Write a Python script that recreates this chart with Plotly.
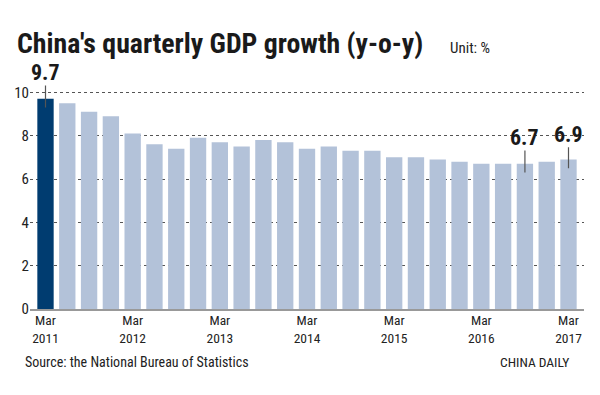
import plotly.graph_objects as go

quarters = ["2011Q1","2011Q2","2011Q3","2011Q4",
            "2012Q1","2012Q2","2012Q3","2012Q4",
            "2013Q1","2013Q2","2013Q3","2013Q4",
            "2014Q1","2014Q2","2014Q3","2014Q4",
            "2015Q1","2015Q2","2015Q3","2015Q4",
            "2016Q1","2016Q2","2016Q3","2016Q4",
            "2017Q1"]
growth = [9.7, 9.5, 9.1, 8.9,
          8.1, 7.6, 7.4, 7.9,
          7.7, 7.5, 7.8, 7.7,
          7.4, 7.5, 7.3, 7.3,
          7.0, 7.0, 6.9, 6.8,
          6.7, 6.7, 6.7, 6.8,
          6.9]
tick_positions = ["2011Q1","2012Q1","2013Q1","2014Q1","2015Q1","2016Q1","2017Q1"]
tick_labels = ["Mar<br>2011","Mar<br>2012","Mar<br>2013","Mar<br>2014","Mar<br>2015","Mar<br>2016","Mar<br>2017"]
highlight_idx = [0, 22, 24]

DARK = "#003c70"
LIGHT = "#b3c2d9"
FONT = "Roboto Condensed, Open Sans Condensed, sans-serif"

# the page has an 8px body margin, so the figure is drawn 8px smaller
W, H = 592, 387

colors = [DARK if i == 0 else LIGHT for i in range(len(growth))]

fig = go.Figure(go.Bar(x=quarters, y=growth, marker=dict(color=colors, line=dict(width=0)),
                       hoverinfo="skip"))

callout_ay = {0: -35, 22: -35, 24: -34}
annotations = []
for i in highlight_idx:
    annotations.append(dict(
        x=quarters[i], y=growth[i] - 0.4, xref="x", yref="y",
        text="<b>%.1f</b>" % growth[i], showarrow=True, arrowhead=0,
        arrowwidth=1.2, arrowcolor="#555555", ax=0, ay=callout_ay[i],
        font=dict(family=FONT, size=22, color="#1a1a1a"), borderpad=0))

annotations += [
    dict(text="Unit: %", xref="paper", yref="paper", x=0.754, y=1.18,
         xanchor="left", yanchor="middle", showarrow=False,
         font=dict(family=FONT, size=15, color="#222222")),
    dict(text="Source: the National Bureau of Statistics", xref="paper", yref="paper",
         x=-0.0132, y=-0.24, xanchor="left", yanchor="middle", showarrow=False,
         font=dict(family=FONT, size=14, color="#222222")),
    dict(text="CHINA DAILY", xref="paper", yref="paper",
         x=0.977, y=-0.24, xanchor="right", yanchor="middle", showarrow=False,
         font=dict(family=FONT, size=13.5, color="#222222")),
]

fig.update_layout(
    width=W, height=H,
    margin=dict(l=22, r=15.5, t=80, b=86),
    paper_bgcolor="white", plot_bgcolor="white",
    bargap=0.25,
    showlegend=False,
    title=dict(text="<b>China's quarterly GDP growth (y-o-y)</b>",
               x=9 / W, xanchor="left", y=1 - 35 / H, yanchor="middle",
               font=dict(family=FONT, size=27.8, color="#1a1a1a")),
    annotations=annotations,
    xaxis=dict(type="category", tickmode="array", tickvals=tick_positions,
               ticktext=tick_labels, showgrid=False, showline=True,
               linecolor="#999999", linewidth=2, ticks="", automargin=False,
               ticklabelstandoff=-2,
               tickfont=dict(family=FONT, size=13.5, color="#222222")),
    yaxis=dict(range=[0, 10.2], tickvals=[0, 2, 4, 6, 8, 10],
               showgrid=True, gridcolor="#555555", griddash="dot", gridwidth=1,
               zeroline=False, ticks="", showline=False, automargin=False,
               tickfont=dict(family=FONT, size=15, color="#222222")),
)

fig.write_html("out.html")
